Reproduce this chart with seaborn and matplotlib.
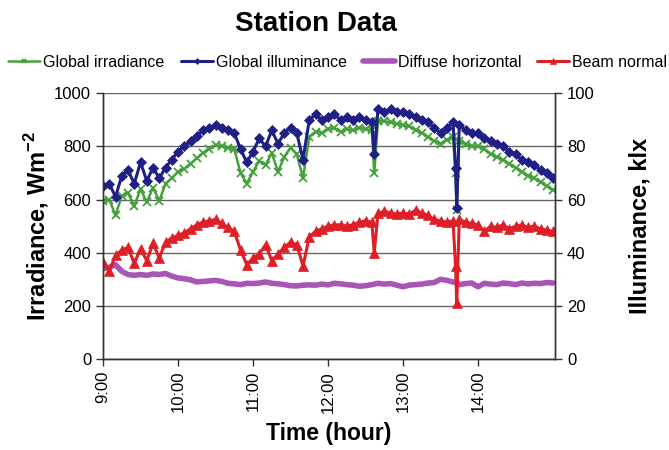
import pandas as pd
import matplotlib
matplotlib.use("Agg")
import matplotlib.pyplot as plt
import seaborn as sns

# horodatage des mesures (heure locale)
times = [
    "9:00", "9:05", "9:10", "9:15", "9:20", "9:25", "9:30", "9:35", "9:40", "9:45",
    "9:50", "9:55", "10:00", "10:05", "10:10", "10:15", "10:20", "10:25", "10:30", "10:35",
    "10:40", "10:45", "10:50", "10:55", "11:00", "11:05", "11:10", "11:15", "11:20", "11:25",
    "11:30", "11:35", "11:40", "11:45", "11:50", "11:55", "12:00", "12:05", "12:10", "12:15",
    "12:20", "12:25", "12:30", "12:35", "12:37", "12:40", "12:45", "12:50", "12:55", "13:00",
    "13:05", "13:10", "13:15", "13:20", "13:25", "13:30", "13:35", "13:40", "13:42", "13:43",
    "13:45", "13:50", "13:55", "14:00", "14:05", "14:10", "14:15", "14:20", "14:25", "14:30",
    "14:35", "14:40", "14:45", "14:50", "14:55", "15:00",
]

# rayonnement global (W/m2)
global_irradiance = [
    595, 600, 540, 615, 625, 575, 640, 590, 645, 595,
    660, 680, 705, 715, 735, 755, 775, 790, 805, 800,
    795, 790, 700, 660, 705, 745, 730, 775, 705, 760,
    795, 770, 680, 835, 855, 850, 865, 870, 855, 865,
    860, 870, 865, 860, 700, 895, 895, 890, 885, 880,
    875, 860, 850, 835, 820, 810, 825, 835, 700, 560,
    820, 810, 800, 800, 790, 770, 760, 750, 735, 720,
    705, 690, 680, 665, 650, 635,
]

# eclairement global (klx)
global_illuminance = [
    65, 66, 61, 69, 71, 66, 74, 67, 72, 68,
    72, 75, 78, 80, 82, 84, 86, 87, 88, 87,
    86, 85, 79, 74, 78, 83, 80, 86, 81, 85,
    87, 85, 75, 90, 92, 90, 91, 92, 90, 91,
    90, 91, 90, 89, 77, 94, 93, 94, 93, 93,
    92, 91, 90, 89, 87, 85, 87, 89, 72, 57,
    88, 86, 85, 85, 83, 82, 81, 80, 78, 77,
    75, 74, 73, 71, 70, 68,
]

# rayonnement diffus horizontal (W/m2)
diffuse_horizontal = [
    340, 345, 355, 330, 318, 315, 318, 315, 320, 318,
    322, 312, 305, 302, 298, 290, 292, 294, 296, 292,
    285, 283, 280, 285, 284, 286, 290, 285, 283, 280,
    276, 275, 278, 279, 278, 282, 279, 285, 283, 280,
    278, 274, 276, 280, 282, 285, 282, 284, 278, 272,
    278, 280, 282, 286, 288, 300, 296, 290, 288, 288,
    280, 284, 286, 272, 285, 282, 280, 286, 284, 280,
    286, 283, 285, 284, 288, 286,
]

# rayonnement direct normal (W/m2)
beam_normal = [
    365, 330, 390, 410, 420, 360, 415, 370, 435, 380,
    440, 455, 465, 475, 490, 505, 515, 520, 525, 510,
    495, 480, 410, 355, 380, 395, 430, 370, 395, 420,
    440, 430, 350, 460, 480, 490, 500, 505, 505, 500,
    505, 515, 520, 515, 400, 550, 555, 550, 545, 550,
    545, 560, 550, 540, 525, 520, 515, 520, 350, 210,
    525, 515, 510, 505, 480, 500, 495, 505, 490, 500,
    505, 495, 500, 490, 485, 480,
]

hour_ticks = ["9:00", "10:00", "11:00", "12:00", "13:00", "14:00"]


def to_hours(t):
    h, m = t.split(":")
    return int(h) + int(m) / 60


df = pd.DataFrame({
    "hour": [to_hours(t) for t in times],
    "Global irradiance": global_irradiance,
    "Global illuminance": global_illuminance,
    "Diffuse horizontal": diffuse_horizontal,
    "Beam normal": beam_normal,
})

sns.set_theme(style="white")
plt.rcParams["font.family"] = ["Liberation Sans", "DejaVu Sans"]
plt.rcParams["mathtext.fontset"] = "custom"
plt.rcParams["mathtext.bf"] = "Liberation Sans:bold"
plt.rcParams["text.color"] = "black"
plt.rcParams["axes.labelcolor"] = "black"

fig = plt.figure(figsize=(6.69, 4.5), dpi=100)
ax = fig.add_axes([0.154, 0.202, 0.676, 0.591])
ax2 = ax.twinx()

green = "#45a03c"
blue = "#1f1f85"
purple = "#a855b5"
red = "#dd2027"

sns.lineplot(data=df, x="hour", y="Global irradiance", ax=ax, color=green,
             marker="x", markersize=6, markeredgewidth=1.3, markeredgecolor=green,
             linewidth=1.8, label="Global irradiance", legend=False)
sns.lineplot(data=df, x="hour", y="Diffuse horizontal", ax=ax, color=purple,
             linewidth=4, label="Diffuse horizontal", legend=False)
sns.lineplot(data=df, x="hour", y="Beam normal", ax=ax, color=red,
             marker="^", markersize=7, markeredgewidth=0.5, markeredgecolor=red,
             linewidth=2.2, label="Beam normal", legend=False)
sns.lineplot(data=df, x="hour", y="Global illuminance", ax=ax2, color=blue,
             marker="D", markersize=5, markeredgewidth=0.5, markeredgecolor=blue,
             linewidth=2.2, label="Global illuminance", legend=False)

ax.set_xlim(9.0, 15.03)
ax.set_ylim(0, 1000)
ax2.set_ylim(0, 100)
ax.set_yticks(range(0, 1001, 200))
ax2.set_yticks(range(0, 101, 20))
ax.set_xticks([to_hours(t) for t in hour_ticks])
ax.set_xticklabels(hour_ticks, rotation=90)

ax.grid(axis="y", color="#666666", linewidth=1.0)
ax.set_axisbelow(True)
for a in (ax, ax2):
    for s in a.spines.values():
        s.set_color("#333333")
        s.set_linewidth(1.0)
ax.spines["top"].set_visible(False)
ax2.spines["top"].set_visible(False)

ax.tick_params(axis="both", direction="out", length=5, width=1, colors="#333333",
               labelcolor="black", labelsize=12, left=True, bottom=True)
ax2.tick_params(axis="y", direction="out", length=5, width=1, colors="#333333",
                labelcolor="black", labelsize=12, right=True)

ax.set_xlabel("Time (hour)", fontsize=16.5, fontweight="bold", labelpad=7)
ax.set_ylabel(r"Irradiance, Wm$^{\mathbf{-2}}$", fontsize=17, fontweight="bold", labelpad=2)
ax2.set_ylabel("Illuminance, klx", fontsize=17, fontweight="bold", labelpad=24)

fig.suptitle("Station Data", x=0.472, y=0.975, fontsize=20, fontweight="bold")

h1, l1 = ax.get_legend_handles_labels()
h2, l2 = ax2.get_legend_handles_labels()
handles = dict(zip(l1 + l2, h1 + h2))
order = ["Global irradiance", "Global illuminance", "Diffuse horizontal", "Beam normal"]
fig.legend([handles[k] for k in order], order, loc="upper center",
           bbox_to_anchor=(0.505, 0.91), ncol=4, frameon=False, fontsize=11.5,
           handlelength=2.0, handletextpad=0.2, columnspacing=1.0, markerscale=0.6)

fig.savefig("out.png", dpi=100)
